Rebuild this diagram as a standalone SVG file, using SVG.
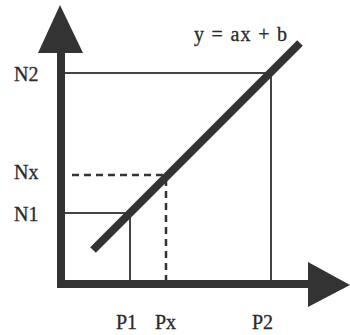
<svg xmlns="http://www.w3.org/2000/svg" width="350" height="335" viewBox="0 0 350 335">
<style>
.lbl{font-family:"Liberation Serif","Times New Roman",serif;font-size:20px;fill:#2a2a2a;stroke:#2a2a2a;stroke-width:0.3}
.thin{stroke:#444;stroke-width:2;fill:none}
.dash{stroke:#333;stroke-width:2.5;stroke-dasharray:7,5;fill:none}
.axis{stroke:#333;stroke-width:8;fill:none}
.head{fill:#333}
</style>
<g id="connectors">
<line class="thin" x1="65" y1="73" x2="271" y2="73"/>
<line class="thin" x1="271" y1="73" x2="271" y2="284"/>
<line class="thin" x1="65" y1="213" x2="130" y2="213"/>
<line class="thin" x1="130" y1="213" x2="130" y2="284"/>
<line class="dash" x1="72" y1="175" x2="166" y2="175"/>
<line class="dash" x1="166" y1="179" x2="166" y2="284"/>
</g>
<g id="y-axis">
<line class="axis" x1="61" y1="288" x2="61" y2="50"/>
<polygon class="head" points="60,5 83,53 38,53"/>
</g>
<g id="x-axis">
<line class="axis" x1="57" y1="284" x2="312" y2="284"/>
<polygon class="head" points="350,285 308,262 308,307"/>
</g>
<g id="line">
<line x1="93" y1="250" x2="300" y2="43" stroke="#333" stroke-width="8" stroke-linecap="butt"/>
</g>
<g id="labels">
<text class="lbl" x="14" y="81">N2</text>
<text class="lbl" x="14" y="179">Nx</text>
<text class="lbl" x="14" y="221">N1</text>
<text class="lbl" x="116" y="329">P1</text>
<text class="lbl" x="155" y="329">Px</text>
<text class="lbl" x="252" y="329">P2</text>
<text class="lbl" x="194" y="41" textLength="93" lengthAdjust="spacing">y = ax + b</text>
</g>
</svg>
